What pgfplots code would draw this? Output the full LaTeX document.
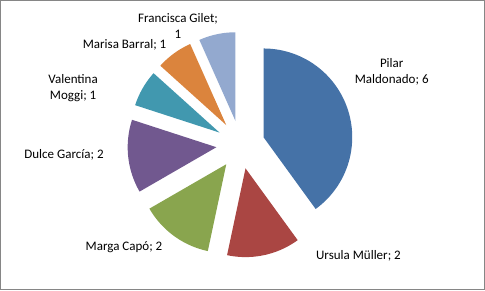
\documentclass[border=0pt]{standalone}
\usepackage{pgfplots}
\pgfplotsset{compat=1.18}
\usepackage{pgfplotstable}
\usepackage{fontspec}
\setmainfont{Carlito}
\definecolor{c0}{HTML}{4572A7}
\definecolor{c1}{HTML}{AA4643}
\definecolor{c2}{HTML}{89A54E}
\definecolor{c3}{HTML}{71588F}
\definecolor{c4}{HTML}{4198AF}
\definecolor{c5}{HTML}{DB843D}
\definecolor{c6}{HTML}{93A9CF}
\definecolor{frame}{HTML}{868686}

\pgfplotstableread{
name value
Pilar 6
Ursula 2
Marga 2
Dulce 2
Valentina 1
Marisa 1
Francisca 1
}\piedata

\begin{document}
\begin{tikzpicture}[lbl/.style={font=\fontsize{12.9}{16}\selectfont, align=center, text=black, inner sep=0pt}]
% pie geometry (pt): centre, radius, explosion
\def\cx{239}\def\cy{150}\def\rad{88}\def\expl{24}
\gdef\total{0}
\foreach \i in {0,...,6}{%
  \pgfplotstablegetelem{\i}{value}\of\piedata
  \pgfmathsetmacro\tmp{\total+\pgfplotsretval}%
  \xdef\total{\tmp}%
}
\gdef\cum{0}
\foreach \i in {0,...,6}{%
  \pgfplotstablegetelem{\i}{value}\of\piedata
  \let\v\pgfplotsretval
  \pgfmathsetmacro\aS{90-360*\cum/\total}%
  \pgfmathsetmacro\aE{90-360*(\cum+\v)/\total}%
  \pgfmathsetmacro\mid{(\aS+\aE)/2}%
  \pgfmathsetmacro\px{\cx+\expl*cos(\mid)}%
  \pgfmathsetmacro\py{\cy+\expl*sin(\mid)}%
  \expandafter\xdef\csname aS\i\endcsname{\aS}%
  \expandafter\xdef\csname aE\i\endcsname{\aE}%
  \expandafter\xdef\csname px\i\endcsname{\px}%
  \expandafter\xdef\csname py\i\endcsname{\py}%
  \pgfmathsetmacro\tmp{\cum+\v}%
  \xdef\cum{\tmp}%
}
\begin{axis}[hide axis, scale only axis, width=485pt, height=294pt,
  xmin=0, xmax=485, ymin=0, ymax=294, clip=false]
\pgfplotsinvokeforeach{0,...,6}{
  \addplot[draw=none, fill=c#1, samples=80,
    domain={\csname aE#1\endcsname:\csname aS#1\endcsname}]
    ({\csname px#1\endcsname+\rad*cos(x)},{\csname py#1\endcsname+\rad*sin(x)})
    -- (axis cs:\csname px#1\endcsname,\csname py#1\endcsname) -- cycle;
}
\draw[frame, line width=1pt] (axis cs:1,6) rectangle (axis cs:481,293);
\node[lbl] at (axis cs:389,222) {Pilar\\Maldonado; 6};
\node[lbl] at (axis cs:356,40) {Ursula Müller; 2};
\node[lbl] at (axis cs:123.5,48) {Marga Capó; 2};
\node[lbl] at (axis cs:64,140) {Dulce García; 2};
\node[lbl] at (axis cs:73,206) {Valentina\\Moggi; 1};
\node[lbl] at (axis cs:124,249) {Marisa Barral; 1};
\node[lbl] at (axis cs:177,268) {Francisca Gilet;\\1};
\end{axis}
\end{tikzpicture}
\end{document}
